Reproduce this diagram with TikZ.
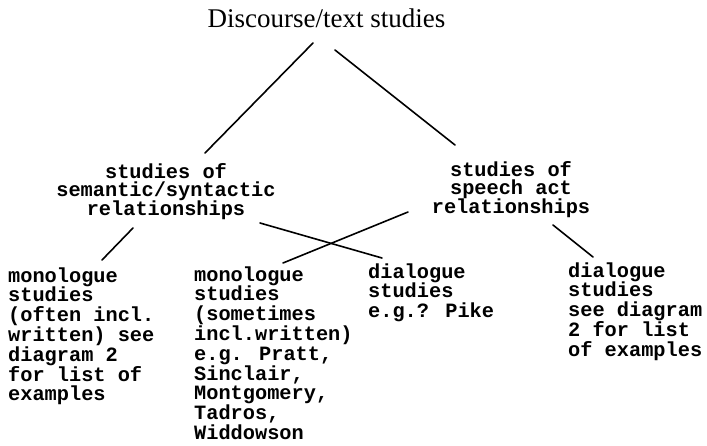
\documentclass[tikz,border=0pt]{standalone}
\usepackage{fontspec}
\usetikzlibrary{calc}
\newfontfamily\twfont{Liberation Mono}
\newfontfamily\ttlfont{Liberation Serif}
\newcommand\LftLines[1]{\vtop{\baselineskip=19.8pt\lineskiplimit=-100pt\lineskip=0pt\halign{##\hfil\cr#1\crcr}}}
\newcommand\CtrLines[1]{\vtop{\baselineskip=18.6pt\lineskiplimit=-100pt\lineskip=0pt\halign{\hfil##\hfil\cr#1\crcr}}}
\tikzset{
  tw/.style={inner sep=0pt, font=\twfont\bfseries\fontsize{20.3}{20}\selectfont},
  lnk/.style={line width=1.6pt, line cap=round},
}
\begin{document}
\begin{tikzpicture}[x=1pt,y=-1pt]
\useasboundingbox (0,0) rectangle (707,445);
\node[inner sep=0pt, anchor=base, font=\ttlfont\fontsize{27}{30}\selectfont] (title) at (326.5,27) {Discourse/text studies};
\node[tw, anchor=base] (semsyn) at (166,178) {\CtrLines{studies of\cr semantic/syntactic\cr relationships}};
\node[tw, anchor=base] (speech) at (511,176) {\CtrLines{studies of\cr speech act\cr relationships}};
\node[tw, anchor=base west] (mono1) at (8,282) {\LftLines{monologue\cr studies\cr (often incl.\cr written) see\cr diagram 2\cr for list of\cr examples}};
\node[tw, anchor=base west] (mono2) at (194,281) {\LftLines{monologue\cr studies\cr (sometimes\cr incl.written)\cr e.g. Pratt,\cr Sinclair,\cr Montgomery,\cr Tadros,\cr Widdowson}};
\node[tw, anchor=base west] (dia1) at (368,278) {\LftLines{dialogue\cr studies\cr e.g.? Pike}};
\node[tw, anchor=base west] (dia2) at (568,277) {\LftLines{dialogue\cr studies\cr see diagram\cr 2 for list\cr of examples}};
\draw[lnk] ([shift={(-13.5,16)}]title.base) -- ([shift={(39,-25)}]semsyn.base);
\draw[lnk] ([shift={(8.5,23)}]title.base) -- ([shift={(-56,-31)}]speech.base);
\draw[lnk] ([shift={(-33,50)}]semsyn.base) -- ([shift={(94,-22)}]mono1.base west);
\draw[lnk] ([shift={(94,45)}]semsyn.base) -- ([shift={(14,-20)}]dia1.base west);
\draw[lnk] ([shift={(-103,36)}]speech.base) -- ([shift={(89,-18)}]mono2.base west);
\draw[lnk] ([shift={(42,49)}]speech.base) -- ([shift={(25,-20)}]dia2.base west);
\end{tikzpicture}
\end{document}
